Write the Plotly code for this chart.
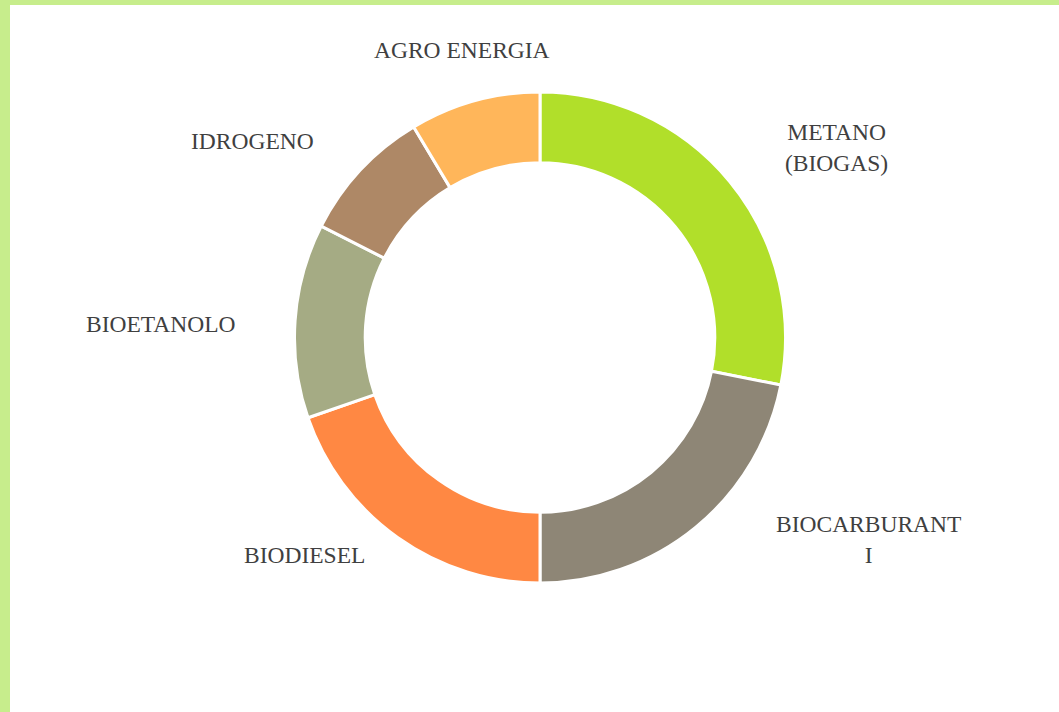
import math
import plotly.graph_objects as go

# ---- data ----
categories = ["METANO (BIOGAS)", "BIOCARBURANTI", "BIODIESEL", "BIOETANOLO", "IDROGENO", "AGRO ENERGIA"]
label_text = ["METANO<br>(BIOGAS)", "BIOCARBURANT<br>I", "BIODIESEL", "BIOETANOLO", "IDROGENO", "AGRO ENERGIA"]
values = [28.1, 21.9, 19.7, 12.8, 8.9, 8.6]
colors = ["#B1DF2A", "#8E8676", "#FF8843", "#A5AB84", "#AE8866", "#FFB65A"]

# ---- layout geometry (pixels) ----
W, H = 1059, 712
CX, CY, R = 540, 337.5, 245.5
HOLE = 0.712
LABEL_R = 293
# small per-label nudges (px, +x right, +y down) to mimic the original best-fit label placement
label_nudge = [(17, 27), (48, -55), (-3, -36), (-10, 7), (-10, 18), (0, 10)]

fig = go.Figure()
fig.add_trace(go.Pie(
    labels=categories,
    values=values,
    hole=HOLE,
    sort=False,
    direction="clockwise",
    rotation=0,
    marker=dict(colors=colors, line=dict(color="white", width=3)),
    textinfo="none",
    hoverinfo="label+percent",
    showlegend=False,
    domain=dict(x=[(CX - R) / W, (CX + R) / W], y=[1 - (CY + R) / H, 1 - (CY - R) / H]),
))

# labels placed outside each slice at the slice mid-angle
total = sum(values)
acc = 0.0
annotations = []
for txt, v, (nx, ny) in zip(label_text, values, label_nudge):
    mid = (acc + v / 2) / total * 2 * math.pi
    acc += v
    s, c = math.sin(mid), math.cos(mid)
    px = CX + LABEL_R * s + nx
    py = CY - LABEL_R * c + ny
    xa = "left" if s > 0.3 else ("right" if s < -0.3 else "center")
    ya = "bottom" if c > 0.3 else ("top" if c < -0.3 else "middle")
    annotations.append(dict(
        x=px / W, y=1 - py / H, xref="paper", yref="paper",
        text=txt, showarrow=False, xanchor=xa, yanchor=ya, align="center",
        font=dict(family="Liberation Serif, Times New Roman, serif", size=23.5, color="#404040"),
    ))

border = "#C7ED8C"
shapes = [
    dict(type="rect", xref="paper", yref="paper", x0=0, x1=1, y0=1 - 5 / H, y1=1,
         fillcolor=border, line=dict(width=0), layer="above"),
    dict(type="rect", xref="paper", yref="paper", x0=0, x1=10 / W, y0=0, y1=1,
         fillcolor=border, line=dict(width=0), layer="above"),
]

fig.update_layout(
    width=W, height=H,
    margin=dict(l=0, r=0, t=0, b=0),
    paper_bgcolor="white",
    plot_bgcolor="white",
    annotations=annotations,
    shapes=shapes,
)

fig.write_html(
    "out.html",
    config={"displayModeBar": False},
    post_script="document.body.style.margin='0';document.body.style.overflow='hidden';",
)
